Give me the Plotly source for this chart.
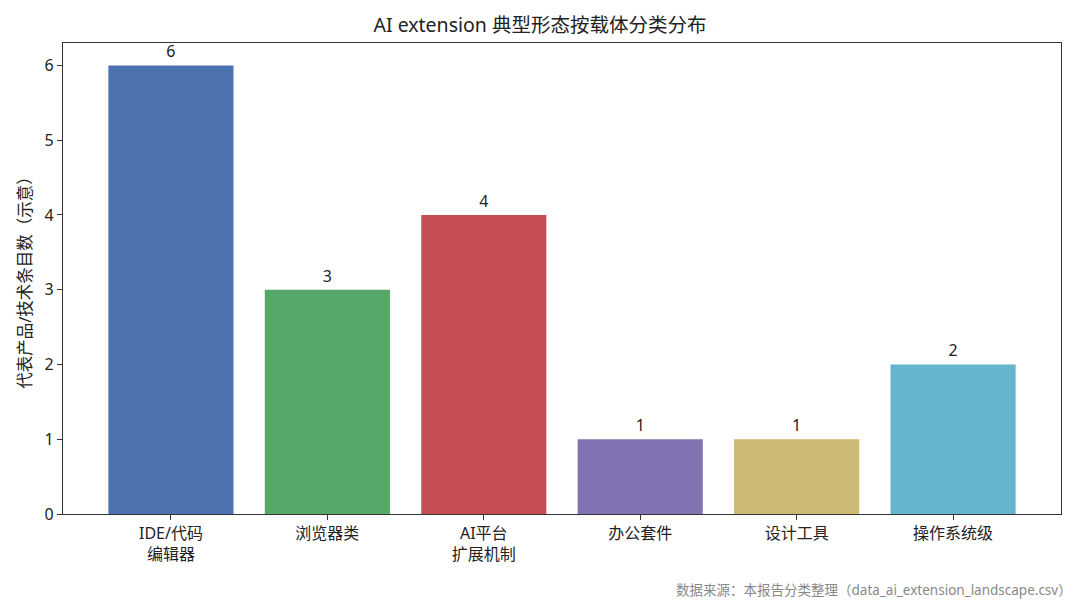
import plotly.graph_objects as go

categories = ["IDE/代码<br>编辑器", "浏览器类", "AI平台<br>扩展机制", "办公套件", "设计工具", "操作系统级"]
counts = [6, 3, 4, 1, 1, 2]
colours = ["#4C72B0", "#55A868", "#C44E52", "#8172B2", "#CCB974", "#64B5CD"]

font_family = "Noto Sans, Noto Sans CJK SC, sans-serif"

fig = go.Figure()
fig.add_trace(go.Bar(
    x=list(range(len(categories))),
    y=counts,
    width=0.8,
    marker=dict(color=colours, line=dict(width=0)),
    text=[str(c) for c in counts],
    textposition="outside",
    textfont=dict(size=16, color="#222222"),
    cliponaxis=False,
))

fig.update_layout(
    width=1080, height=600,
    margin=dict(l=63, r=19, t=43, b=86, autoexpand=False),
    paper_bgcolor="white", plot_bgcolor="white",
    font=dict(family=font_family, size=16, color="#222222"),
    title=dict(text="AI extension 典型形态按载体分类分布", x=0.5, xanchor="center",
               y=1 - 25 / 600, yanchor="middle", font=dict(size=19.5)),
    showlegend=False,
)
fig.update_xaxes(
    tickmode="array", tickvals=list(range(len(categories))), ticktext=categories,
    range=[-0.69, 5.69], showline=True, linecolor="#333333", linewidth=1.2,
    mirror=True, ticks="outside", ticklen=5, tickcolor="#333333",
    showgrid=False, zeroline=False, tickfont=dict(size=16),
)
fig.update_yaxes(
    range=[0, 6.3], dtick=1, showline=True, linecolor="#333333", linewidth=1.2,
    mirror=True, ticks="outside", ticklen=5, tickcolor="#333333",
    showgrid=False, zeroline=False, tickfont=dict(size=16),
    title=dict(text="代表产品/技术条目数（示意）", font=dict(size=16.5), standoff=8),
)
fig.add_annotation(
    text="数据来源：本报告分类整理（data_ai_extension_landscape.csv）",
    xref="paper", yref="paper", x=1 + 13 / 998, y=-(590 - 514) / 471,
    xanchor="right", yanchor="middle", showarrow=False,
    font=dict(size=13.5, color="#888888"),
)

fig.write_html("out.html", config={"displayModeBar": False},
               post_script="document.body.style.margin='0';")
